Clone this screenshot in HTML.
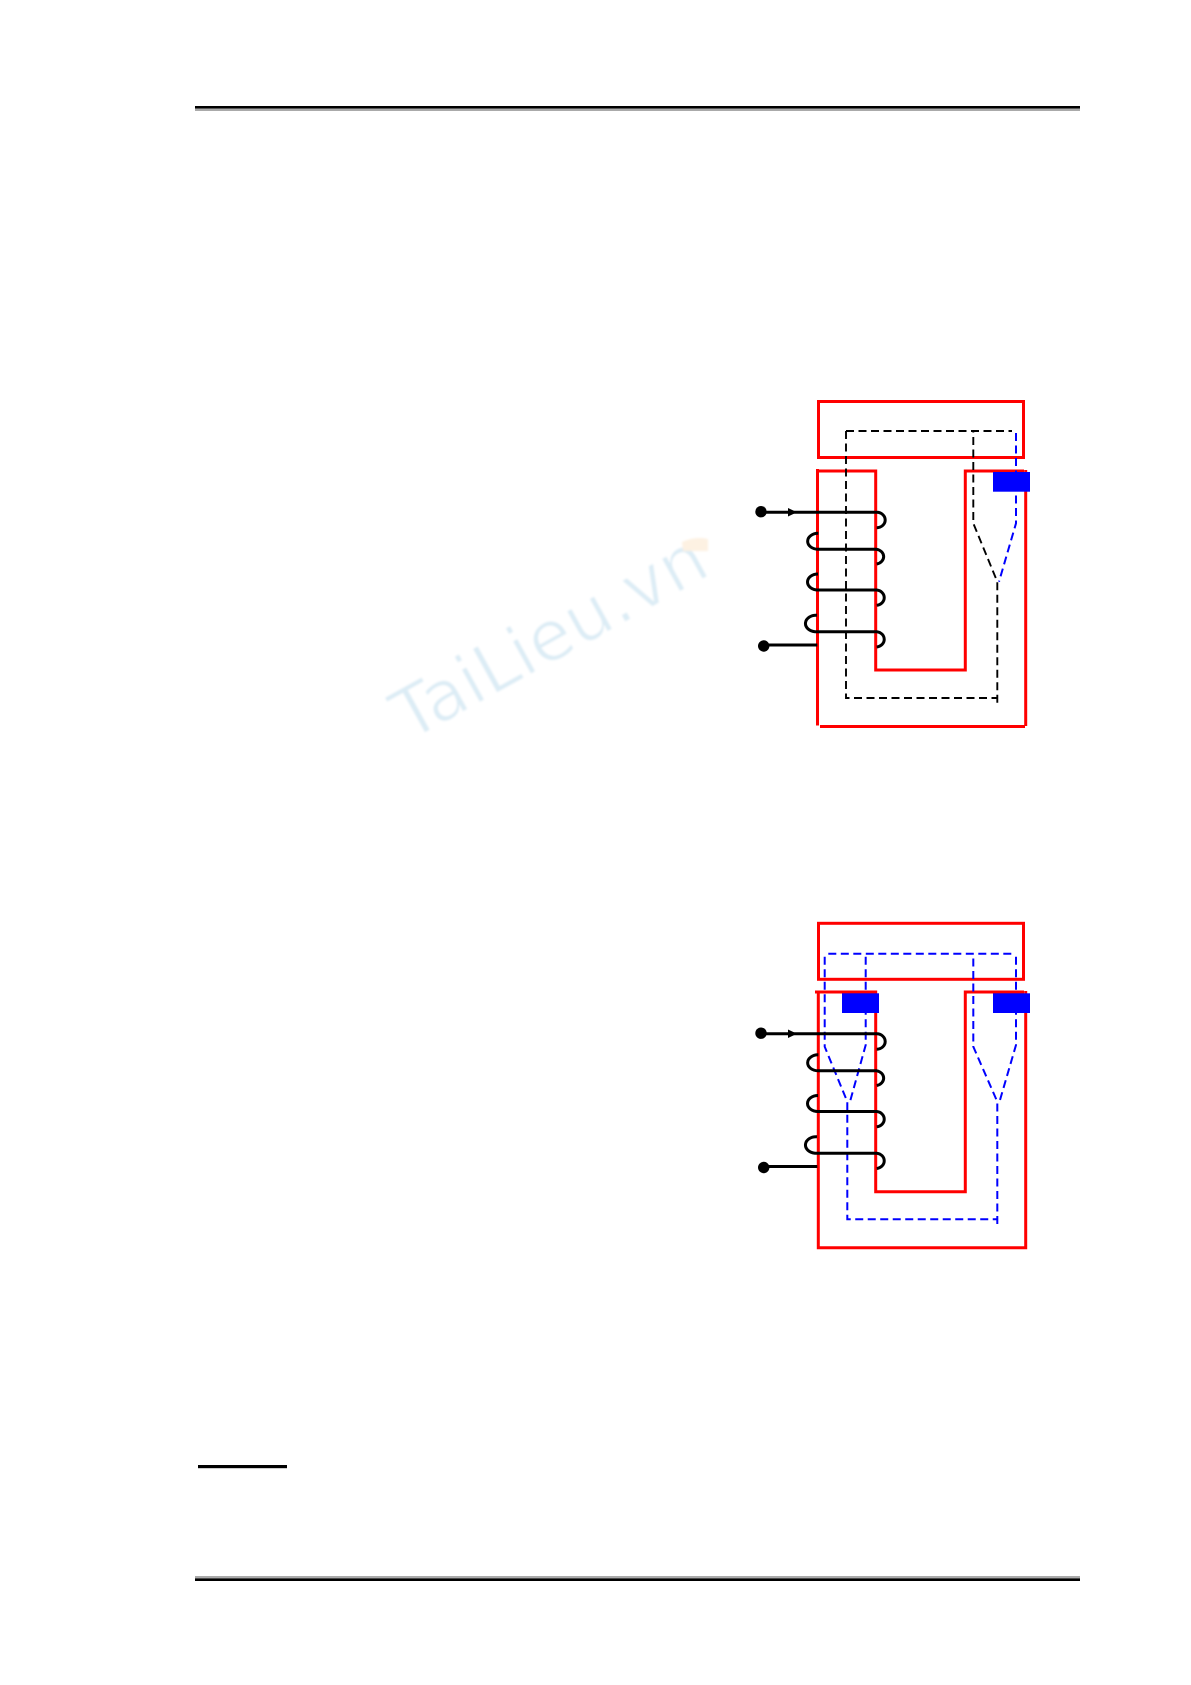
<!DOCTYPE html>
<html><head><meta charset="utf-8"><style>
html,body{margin:0;padding:0;background:#fff;width:1191px;height:1685px;overflow:hidden}
svg{display:block}
</style></head><body>
<svg width="1191" height="1685" viewBox="0 0 1191 1685" xmlns="http://www.w3.org/2000/svg">
<defs><filter id="b" x="-10%" y="-30%" width="120%" height="160%"><feGaussianBlur stdDeviation="1"/></filter></defs>
<rect width="1191" height="1685" fill="#fff"/>
<!-- watermark -->
<g filter="url(#b)">
<text transform="translate(409,742) rotate(-29)" font-family="'DejaVu Sans',sans-serif" font-size="70" fill="#dcecf5" stroke="#fff" stroke-width="1.6" paint-order="fill">TaiLieu.vn</text>
<path d="M682 542 Q695 536 708 539 L708 551 L683 551 Z" fill="#fdf1e2"/>
</g>
<!-- page rules -->
<rect x="195" y="106" width="885" height="2.6" fill="#000"/>
<rect x="195" y="108.6" width="885" height="2.4" fill="#aaa"/>
<rect x="195" y="1576" width="885" height="2.4" fill="#aaa"/>
<rect x="195" y="1578.4" width="885" height="2.6" fill="#000"/>
<rect x="198" y="1465" width="89" height="3.2" fill="#000"/>

<!-- Diagram 1 -->
<g fill="none">
<g stroke="#f00" stroke-width="3">
<rect x="818.5" y="401.5" width="205" height="56"/>
<path d="M817.5 469V725.5M816.5 471H875.7V670H965.3V471H1024M1025.7 470V726M820 726.5H1025"/>
</g>
<path d="M846 431H1012M846 431V698H997.3M997.3 702.7V581.7L973.3 523.3V431" stroke="#000" stroke-width="1.9" stroke-dasharray="8 4.5"/>
<path d="M1016 433V523.3L999 581.7" stroke="#00f" stroke-width="2" stroke-dasharray="8 4.5"/>
<rect x="993" y="472" width="37" height="19.7" fill="#00f"/>
<g stroke="#000" stroke-width="3">
<path d="M761 512.3H876.7A8.5 7.7 0 0 1 876.7 527.7"/>
<path d="M818.3 533.3A10.5 8 0 0 0 818 549.3H876.7A8.7 7.5 0 0 1 876.7 564"/>
<path d="M818 574A10.5 8 0 0 0 818 590H876.7A8.5 7.7 0 0 1 876.7 605.3"/>
<path d="M817 615.3A10.5 8.2 0 0 0 815 631.7H876.7A8.5 7.7 0 0 1 876.7 647"/>
<path d="M763.7 645H817.3"/>
<circle cx="761" cy="511.7" r="5.7" fill="#000" stroke="none"/>
<circle cx="763.7" cy="646" r="5.7" fill="#000" stroke="none"/>
<path d="M788 508L797 512.3L788 516.5Z" fill="#000" stroke="none"/>
</g>
</g>

<!-- Diagram 2 -->
<g fill="none">
<g stroke="#f00" stroke-width="3">
<rect x="818.5" y="923.3" width="205" height="56"/>
<path d="M815 992H875.7V1191.7H965.3V992H1024M818.3 992V1247.7H1025.7V991"/>
</g>
<g stroke="#00f" stroke-width="2" stroke-dasharray="8 4.5">
<path d="M828.3 953.7H1012.7"/>
<path d="M824.7 956.7V1046.7L847.3 1101.7V1219.3H997.3"/>
<path d="M865.7 956.7V1045L850 1101.7"/>
<path d="M997.3 1224V1101.7L973.3 1046.7V956.7"/>
<path d="M1016 956.7V1045L999.5 1101.7"/>
</g>
<rect x="842" y="993.3" width="37" height="19.7" fill="#00f"/>
<rect x="993" y="993.3" width="37" height="19.7" fill="#00f"/>
<g transform="translate(0,521.5)" stroke="#000" stroke-width="3">
<path d="M761 512.3H876.7A8.5 7.7 0 0 1 876.7 527.7"/>
<path d="M818.3 533.3A10.5 8 0 0 0 818 549.3H876.7A8.7 7.5 0 0 1 876.7 564"/>
<path d="M818 574A10.5 8 0 0 0 818 590H876.7A8.5 7.7 0 0 1 876.7 605.3"/>
<path d="M817 615.3A10.5 8.2 0 0 0 815 631.7H876.7A8.5 7.7 0 0 1 876.7 647"/>
<path d="M763.7 645H817.3"/>
<circle cx="761" cy="511.7" r="5.7" fill="#000" stroke="none"/>
<circle cx="763.7" cy="646" r="5.7" fill="#000" stroke="none"/>
<path d="M788 508L797 512.3L788 516.5Z" fill="#000" stroke="none"/>
</g>
</g>
</svg>
</body></html>
